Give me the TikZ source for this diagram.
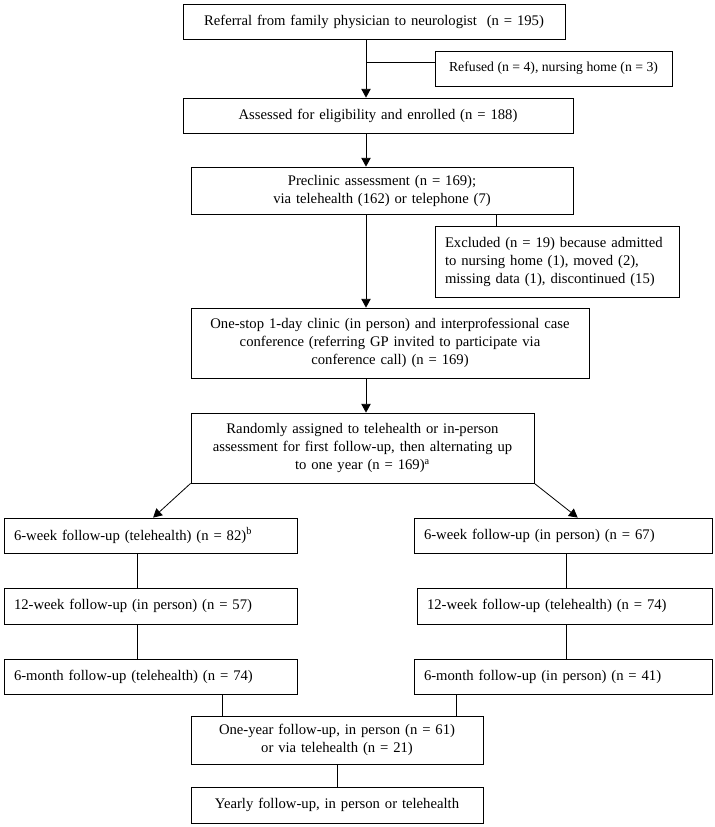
\documentclass[tikz,border=0pt]{standalone}
\usepackage{fontspec}
\setmainfont{Liberation Serif}
\usepackage{tikz}
\usetikzlibrary{arrows.meta}

\begin{document}
\begin{tikzpicture}[x=0.75pt, y=-0.75pt,
    box/.style={rectangle, draw, line width=0.6pt, inner xsep=7.5pt, inner ysep=0pt,
        font=\fontsize{11}{13.5}\selectfont},
    cbox/.style={box, align=center},
    lbox/.style={box, align=left},
    arr/.style={line width=0.6pt, -{Triangle[length=6.5pt,width=7pt]}},
    link/.style={line width=0.6pt}]
    \useasboundingbox (0,0) rectangle (714,827);
    % main column
    \node (referral) [cbox, text width=271.5pt, minimum height=26.25pt] at (374,21.5) {Referral from family physician to neurologist~~(n = 195)};
    \node (refused) [box, font=\fontsize{10.3}{12.5}\selectfont, minimum width=177.75pt, minimum height=26.25pt] at (553.5,68.5) {Refused (n = 4), nursing home (n = 3)};
    \node (assessed) [cbox, text width=277.5pt, minimum height=26.25pt] at (378,115.5) {Assessed for eligibility and enrolled (n = 188)};
    \node (preclinic) [cbox, text width=271.5pt, minimum height=35.25pt] at (382,190.5) {Preclinic assessment (n = 169);\\ via telehealth (162) or telephone (7)};
    \node (excluded) [lbox, text width=168pt, minimum height=53.25pt] at (557,261.5) {Excluded (n = 19) because admitted\\ to nursing home (1), moved (2),\\ missing data (1), discontinued (15)};
    \node (onestop) [cbox, text width=283.5pt, minimum height=52.5pt] at (390,343) {One-stop 1-day clinic (in person) and interprofessional case\\ conference (referring GP invited to participate via\\ conference call) (n = 169)};
    \node (random) [cbox, text width=242.25pt, minimum height=52.5pt] at (362.5,448) {Randomly assigned to telehealth or in-person\\ assessment for first follow-up, then alternating up\\ to one year (n = 169)\textsuperscript{a}};
    % telehealth first
    \node (tele6w) [lbox, text width=204.75pt, minimum height=26.25pt] at (150.5,535.5) {6-week follow-up (telehealth) (n = 82)\textsuperscript{b}};
    \node (pers12w) [lbox, text width=204.75pt, minimum height=27pt] at (150.5,606) {12-week follow-up (in person) (n = 57)};
    \node (tele6m) [lbox, text width=204.75pt, minimum height=26.25pt] at (150.5,676.5) {6-month follow-up (telehealth) (n = 74)};
    % in person first
    \node (pers6w) [lbox, text width=208.5pt, minimum height=26.25pt] at (563,535.5) {6-week follow-up (in person) (n = 67)};
    \node (tele12w) [lbox, text width=206.25pt, minimum height=27pt] at (564.5,606) {12-week follow-up (telehealth) (n = 74)};
    \node (pers6m) [lbox, text width=208.5pt, minimum height=26.25pt] at (563,676.5) {6-month follow-up (in person) (n = 41)};
    % one year and after
    \node (oneyear) [cbox, text width=204pt, minimum height=36pt] at (337,740) {One-year follow-up, in person (n = 61)\\ or via telehealth (n = 21)};
    \node (yearly) [cbox, text width=204pt, minimum height=27pt] at (337,805) {Yearly follow-up, in person or telehealth};

    \coordinate (spine) at (366,0);
    \coordinate (refjoin) at (366,62);
    \coordinate (exjoin) at (496,0);
    \coordinate (leftcol) at (137,0);
    \coordinate (rightcol) at (566,0);
    \coordinate (joinl) at (222,0);
    \coordinate (joinr) at (456,0);

    \draw[arr] (referral.south -| spine) -- (assessed.north -| spine);
    \draw[link] (refjoin) -- (refjoin -| refused.west);
    \draw[arr] (assessed.south -| spine) -- (preclinic.north -| spine);
    \draw[link] (preclinic.south -| exjoin) -- (excluded.north -| exjoin);
    \draw[arr] (preclinic.south -| spine) -- (onestop.north -| spine);
    \draw[arr] (onestop.south -| spine) -- (random.north -| spine);
    \draw[arr] (random.south west) -- ([xshift=2pt]tele6w.north);
    \draw[arr] (random.south east) -- ([xshift=11pt]pers6w.north);
    \draw[link] (tele6w.south -| leftcol) -- (pers12w.north -| leftcol);
    \draw[link] (pers12w.south -| leftcol) -- (tele6m.north -| leftcol);
    \draw[link] (pers6w.south -| rightcol) -- (tele12w.north -| rightcol);
    \draw[link] (tele12w.south -| rightcol) -- (pers6m.north -| rightcol);
    \draw[link] (tele6m.south -| joinl) -- (oneyear.north -| joinl);
    \draw[link] (pers6m.south -| joinr) -- (oneyear.north -| joinr);
    \draw[link] (oneyear.south) -- (yearly.north);
\end{tikzpicture}
\end{document}
